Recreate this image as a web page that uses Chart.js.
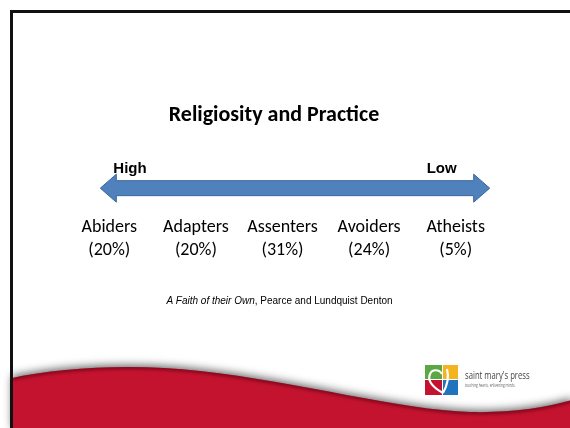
<!DOCTYPE html>
<html>
<head>
<meta charset="utf-8">
<script src="https://cdn.jsdelivr.net/npm/chart.js@4"></script>
<style>
  html, body { margin: 0; padding: 0; background: #fff; }
  canvas { display: block; }
</style>
</head>
<body>
<canvas id="slideChart" width="570" height="428"></canvas>
<script>
// the data on the slide
let categories = ["Abiders", "Adapters", "Assenters", "Avoiders", "Atheists"];
let shares = [20, 20, 31, 24, 5];
let scaleEnds = ["High", "Low"];
let titleText = "Religiosity and Practice";
let sourceBook = "A Faith of their Own";
let sourceAuthors = ", Pearce and Lundquist Denton";

let labelFont = "Carlito, Lato, sans-serif";
let arialFont = "'Liberation Sans', Arial, sans-serif";

// slide frame, red wave and the logo go behind everything
const slideBackground = {
  id: "slideBackground",
  beforeDraw(chart) {
    const ctx = chart.ctx;
    const w = chart.width, h = chart.height;
    ctx.save();
    ctx.fillStyle = "#fff";
    ctx.fillRect(0, 0, w, h);

    // red wave at the bottom
    const edge = (p) => {
      p.moveTo(12, 378);
      p.bezierCurveTo(60, 368, 130, 363, 200, 371);
      p.bezierCurveTo(300, 382, 400, 410, 470, 412);
      p.bezierCurveTo(510, 413, 545, 408, 572, 400);
    };
    const wave = new Path2D();
    edge(wave);
    wave.lineTo(572, h + 2);
    wave.lineTo(12, h + 2);
    wave.closePath();

    ctx.shadowColor = "rgba(0,0,0,0.6)";
    ctx.shadowBlur = 8;
    ctx.shadowOffsetY = -2;
    ctx.fillStyle = "#c4132f";
    ctx.fill(wave);
    ctx.shadowColor = "transparent";

    // darker edge along the top of the wave
    ctx.save();
    ctx.clip(wave);
    const rim = new Path2D();
    edge(rim);
    ctx.strokeStyle = "rgba(80,0,15,0.5)";
    ctx.lineWidth = 5;
    ctx.filter = "blur(1.5px)";
    ctx.stroke(rim);
    ctx.restore();

    // black frame (top and left)
    ctx.fillStyle = "#111";
    ctx.fillRect(10, 10, w - 10, 3);
    ctx.fillRect(10, 10, 3, h - 10);

    // logo
    ctx.fillStyle = "#5aa843"; ctx.fillRect(425, 365, 17, 14);
    ctx.fillStyle = "#f4b41f"; ctx.fillRect(443, 365, 15, 14);
    ctx.fillStyle = "#c4132f"; ctx.fillRect(425, 380, 17, 15);
    ctx.fillStyle = "#1f74bd"; ctx.fillRect(443, 380, 15, 15);
    ctx.beginPath();
    ctx.moveTo(443, 393);
    ctx.bezierCurveTo(434, 388, 427, 381, 430, 374);
    ctx.bezierCurveTo(432, 369, 439, 369, 442, 374);
    ctx.moveTo(443, 393);
    ctx.bezierCurveTo(447, 386, 449, 377, 447, 369);
    ctx.strokeStyle = "#fff";
    ctx.lineWidth = 2.2;
    ctx.stroke();

    ctx.fillStyle = "#444";
    ctx.textAlign = "left";
    ctx.textBaseline = "alphabetic";
    ctx.save();
    ctx.translate(465, 379);
    ctx.scale(0.7, 1);
    ctx.font = "11px 'Open Sans', sans-serif";
    ctx.fillText("saint mary's press", 0, 0);
    ctx.font = "4.5px 'Open Sans', sans-serif";
    ctx.fillStyle = "#666";
    ctx.fillText("touching hearts. enlivening minds.", 0, 8);
    ctx.restore();
    ctx.restore();
  }
};

// the double arrow between the ends of the scale, plus the source line
const scaleArrow = {
  id: "scaleArrow",
  afterDatasetsDraw(chart) {
    const ctx = chart.ctx;
    const area = chart.chartArea;
    const x = chart.scales.x;
    const left = x.getPixelForValue(0) - 9;
    const right = x.getPixelForValue(categories.length - 1) + 34;
    const mid = (area.top + area.bottom) / 2;
    const shaft = 7.5, head = 14, headLen = 16;

    ctx.save();
    ctx.beginPath();
    ctx.moveTo(left, mid);
    ctx.lineTo(left + headLen, mid - head);
    ctx.lineTo(left + headLen, mid - shaft);
    ctx.lineTo(right - headLen, mid - shaft);
    ctx.lineTo(right - headLen, mid - head);
    ctx.lineTo(right, mid);
    ctx.lineTo(right - headLen, mid + head);
    ctx.lineTo(right - headLen, mid + shaft);
    ctx.lineTo(left + headLen, mid + shaft);
    ctx.lineTo(left + headLen, mid + head);
    ctx.closePath();
    ctx.fillStyle = "#4f81bd";
    ctx.fill();
    ctx.strokeStyle = "#3b6699";
    ctx.lineWidth = 1;
    ctx.stroke();

    // High / Low
    ctx.fillStyle = "#000";
    ctx.font = "bold 15px " + arialFont;
    ctx.textBaseline = "alphabetic";
    ctx.textAlign = "left";
    ctx.fillText(scaleEnds[0], left + 13, mid - 15);
    ctx.textAlign = "right";
    ctx.fillText(scaleEnds[1], right - 33, mid - 15);

    // source line, book title in italics
    const cx = (area.left + area.right) / 2;
    const cy = x.bottom + 32;
    ctx.textBaseline = "alphabetic";
    ctx.textAlign = "left";
    ctx.font = "italic 10px " + arialFont;
    const w1 = ctx.measureText(sourceBook).width;
    ctx.font = "10px " + arialFont;
    const w2 = ctx.measureText(sourceAuthors).width;
    let sx = cx - (w1 + w2) / 2 - 3;
    ctx.font = "italic 10px " + arialFont;
    ctx.fillText(sourceBook, sx, cy);
    ctx.font = "10px " + arialFont;
    ctx.fillText(sourceAuthors, sx + w1, cy);
    ctx.restore();
  }
};

let ctx = document.getElementById("slideChart").getContext("2d");

new Chart(ctx, {
  type: "line",
  data: {
    labels: categories,
    datasets: [{
      label: "Share",
      data: shares,
      showLine: false,
      pointRadius: 0,
      pointHoverRadius: 0
    }]
  },
  options: {
    responsive: false,
    animation: false,
    devicePixelRatio: 1,
    layout: {
      padding: { top: 0, left: 49, right: 71, bottom: 156 }
    },
    plugins: {
      legend: { display: false },
      tooltip: { enabled: false },
      title: {
        display: true,
        text: titleText,
        color: "#000",
        font: { family: labelFont, size: 22, weight: "bold", lineHeight: 1.2 },
        padding: { top: 102, bottom: 42 }
      }
    },
    scales: {
      // categories with their shares under the arrow
      x: {
        offset: true,
        grid: { display: false, drawTicks: false },
        border: { display: false },
        ticks: {
          color: "#000",
          padding: 10,
          maxRotation: 0,
          autoSkip: false,
          font: { family: labelFont, size: 18, lineHeight: 1.28 },
          callback: (val, i) => [categories[i], "(" + shares[i] + "%)"]
        }
      },
      // hidden value axis, only keeps a small gutter on the left
      y: {
        display: true,
        min: 0,
        max: 100,
        grid: { display: false, drawTicks: false },
        border: { display: false },
        ticks: { display: false },
        afterFit(scale) { scale.width = 17; }
      }
    }
  },
  plugins: [slideBackground, scaleArrow]
});
</script>
</body>
</html>
